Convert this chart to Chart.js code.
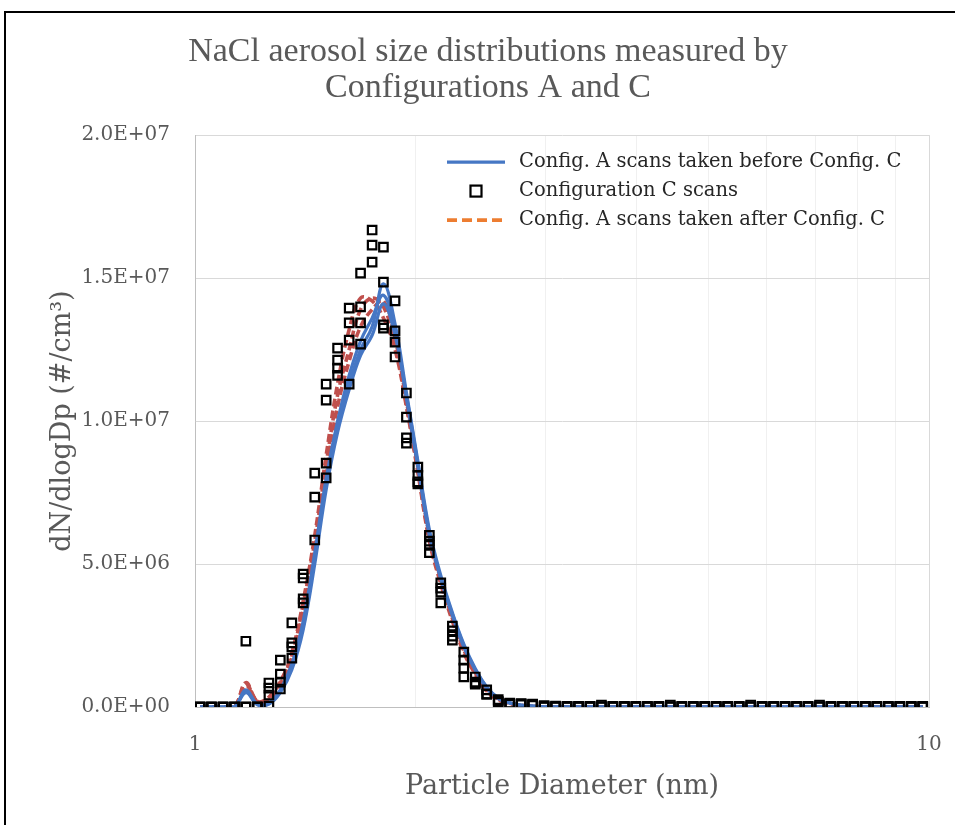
<!DOCTYPE html>
<html><head><meta charset="utf-8">
<script src="https://cdn.jsdelivr.net/npm/chart.js@4.4.1/dist/chart.umd.min.js"></script>
<style>
html,body{margin:0;padding:0;background:#fff;overflow:hidden;}
#wrap{position:relative;width:955px;height:825px;}
#frame{position:absolute;left:4px;top:11px;width:1000px;height:900px;border:2.5px solid #000;box-sizing:border-box;pointer-events:none;}
canvas{position:absolute;left:0;top:0;}
</style></head><body>
<div id="wrap"><canvas id="c" width="955" height="825"></canvas><div id="frame"></div></div>
<script>
// Particle diameters (nm), one per instrument channel
const diameters = [
  1.016,1.053,1.092,1.132,1.173,1.216,1.261,1.307,1.355,1.404,
  1.456,1.509,1.564,1.622,1.681,1.743,1.806,1.873,1.941,2.012,
  2.086,2.162,2.242,2.324,2.409,2.497,2.589,2.684,2.782,2.884,
  2.990,3.099,3.213,3.331,3.453,3.579,3.710,3.846,3.987,4.134,
  4.285,4.442,4.605,4.774,4.949,5.130,5.318,5.513,5.715,5.924,
  6.142,6.367,6.600,6.842,7.093,7.353,7.622,7.901,8.191,8.491,
  8.802,9.125,9.459,9.805
];

// dN/dlogDp values in units of 1E+06 #/cm3
// Configuration C scans (squares)
const cScan1 = [
  0,0,0,0,2.3,0,0.84,1.64,2.94,4.65,
  8.18,11.29,12.55,13.95,15.17,16.68,16.08,14.2,10.98,8.39,
  6.0,4.34,2.83,1.92,1.05,0.6,0.26,0.14,0.12,0.1,
  0.05,0.03,0.02,0.02,0.02,0.07,0.02,0.02,0.02,0.02,
  0.02,0.07,0.02,0.02,0.02,0.02,0.02,0.02,0.07,0.02,
  0.02,0.02,0.02,0.02,0.07,0.02,0.02,0.02,0.02,0.02,
  0.02,0.02,0.02,0.02
];
const cScan2 = [
  0,0,0,0,0,0,0.66,1.15,2.24,4.51,
  7.34,10.73,12.13,13.43,13.99,16.15,14.86,13.15,10.14,8.1,
  5.8,4.16,2.66,1.64,0.87,0.45,0.16,0.12,0.1,0.08,
  0.01,0.01,0.01,0.01,0.01,0.01,0.01,0.01,0.01,0.01,
  0.01,0.01,0.01,0.01,0.01,0.01,0.01,0.01,0.01,0.01,
  0.01,0.01,0.01,0.01,0.01,0.01,0.01,0.01,0.01,0.01,
  0.01,0.01,0.01,0.01
];
const cScan3 = [
  0,0,0,0,0,0,0.42,0.87,2.1,3.78,
  5.84,8.53,11.85,12.83,13.43,15.56,13.36,12.76,9.41,7.87,
  5.65,4.02,2.48,1.36,0.84,0.45,0.2,0.1,0.08,0.06,
  0,0,0,0,0,0,0,0,0,0,
  0,0,0,0,0,0,0,0,0,0,
  0,0,0,0,0,0,0,0,0,0,
  0,0,0,0
];
const cScan4 = [
  0,0,0,0,0,0,0.03,0.63,1.71,3.64,
  null,8.01,11.6,11.29,12.69,null,13.25,12.24,9.23,7.8,
  5.4,3.64,2.34,1.05,0.8,null,null,null,null,null,
  null,null,null,null,null,null,null,null,null,null,
  null,null,null,null,null,null,null,null,null,null,
  null,null,null,null,null,null,null,null,null,null,
  null,null,null,null
];

// Config. A scans taken before Config. C (blue solid)
const aBefore1 = [
  0,0,0,0,0.6,0.1,0.15,0.55,1.4,2.8,
  5.2,7.8,9.8,11.3,12.5,13.3,14.8,13.4,11.0,8.6,
  6.2,4.6,3.3,2.2,1.35,0.7,0.32,0.15,0.07,0.03,
  0,0,0,0,0,0,0,0,0,0,
  0,0,0,0,0,0,0,0,0,0,
  0,0,0,0,0,0,0,0,0,0,
  0,0,0,0
];
const aBefore2 = [
  0,0,0,0,0.5,0.08,0.1,0.5,1.3,2.7,
  5.0,7.6,9.6,11.1,12.3,13.0,14.1,13.0,10.9,8.5,
  6.1,4.5,3.2,2.1,1.3,0.65,0.3,0.14,0.06,0.02,
  0,0,0,0,0,0,0,0,0,0,
  0,0,0,0,0,0,0,0,0,0,
  0,0,0,0,0,0,0,0,0,0,
  0,0,0,0
];
const aBefore3 = [
  0,0,0,0,0.55,0.1,0.12,0.6,1.5,3.0,
  5.4,8.0,10.0,11.6,12.8,13.6,14.4,13.2,10.8,8.4,
  6.0,4.5,3.25,2.15,1.3,0.7,0.3,0.14,0.06,0.03,
  0,0,0,0,0,0,0,0,0,0,
  0,0,0,0,0,0,0,0,0,0,
  0,0,0,0,0,0,0,0,0,0,
  0,0,0,0
];

// Config. A scans taken after Config. C (red dashed)
const aAfter1 = [
  0,0,0,0,0.85,0.2,0.35,0.9,1.8,3.6,
  5.8,8.5,10.9,12.5,13.9,14.3,14.0,12.7,10.6,8.3,
  5.9,4.4,3.1,2.0,1.2,0.6,0.28,0.13,0.06,0.03,
  0,0,0,0,0,0,0,0,0,0,
  0,0,0,0,0,0,0,0,0,0,
  0,0,0,0,0,0,0,0,0,0,
  0,0,0,0
];
const aAfter2 = [
  0,0,0,0,0.8,0.2,0.3,0.85,1.9,3.7,
  6.0,8.8,11.3,13.2,14.3,14.2,13.6,12.5,10.5,8.2,
  5.8,4.3,3.0,1.9,1.15,0.55,0.25,0.12,0.05,0.02,
  0,0,0,0,0,0,0,0,0,0,
  0,0,0,0,0,0,0,0,0,0,
  0,0,0,0,0,0,0,0,0,0,
  0,0,0,0
];
const aAfter3 = [
  0,0,0,0,0.75,0.18,0.25,0.8,1.7,3.4,
  5.6,8.2,10.5,12.1,13.3,13.9,14.2,12.9,10.7,8.4,
  6.0,4.45,3.1,2.0,1.2,0.6,0.27,0.13,0.06,0.03,
  0,0,0,0,0,0,0,0,0,0,
  0,0,0,0,0,0,0,0,0,0,
  0,0,0,0,0,0,0,0,0,0,
  0,0,0,0
];

const UNIT = 1e6;
const yTickValues = [0, 5e6, 1e7, 1.5e7, 2e7];
const xGridValues = [1, 2, 3, 4, 5, 6, 7, 8, 9, 10];
const xTickLabels = [1, 10];
const labelBefore = 'Config. A scans taken before Config. C';
const labelC = 'Configuration C scans';
const labelAfter = 'Config. A scans taken after Config. C';
const titleLines = ['NaCl aerosol size distributions measured by', 'Configurations A and C'];
const xTitle = 'Particle Diameter (nm)';
const yTitle = 'dN/dlogDp (#/cm\u00B3)';

const BLUE = '#4677c4', RED = '#c0504d', ORANGE = '#ed7d31';
const SERIF = '"DejaVu Serif", serif';

function toPts(arr){
  return diameters.map((d,i)=>({x:d, y: arr[i]==null ? null : arr[i]*UNIT})).filter(p=>p.y!==null);
}
function fmtE(v){
  const parts = Number(v).toExponential(1).split('e');
  const n = parseInt(parts[1],10);
  return parts[0] + 'E' + (n<0?'-':'+') + String(Math.abs(n)).padStart(2,'0');
}

const cSets = [cScan1,cScan2,cScan3,cScan4].map(s=>({
  label: labelC, data: toPts(s), showLine:false,
  pointStyle:'rect', pointRadius:6, pointHoverRadius:6,
  pointBorderColor:'#000', pointBackgroundColor:'rgba(0,0,0,0)', pointBorderWidth:2.2
}));
const bSets = [aBefore1,aBefore2,aBefore3].map(s=>({
  label: labelBefore, data: toPts(s), showLine:true, borderColor:BLUE, borderWidth:3.2,
  pointRadius:0, tension:0.4, fill:false
}));
const rSets = [aAfter1,aAfter2,aAfter3].map(s=>({
  label: labelAfter, data: toPts(s), showLine:true, borderColor:RED, borderWidth:3.6,
  borderDash:[8,4], pointRadius:0, tension:0.4, fill:false
}));

const legendPlugin = {
  id:'insideLegend',
  afterDraw(chart){
    const ctx = chart.ctx, a = chart.chartArea;
    const x0 = a.left + 252, x1 = a.left + 310, tx = a.left + 324;
    const ys = [a.top + 27, a.top + 56, a.top + 85];
    ctx.save();
    ctx.strokeStyle = BLUE; ctx.lineWidth = 3.2; ctx.setLineDash([]);
    ctx.beginPath(); ctx.moveTo(x0, ys[0]); ctx.lineTo(x1, ys[0]); ctx.stroke();
    ctx.strokeStyle = '#000'; ctx.lineWidth = 2.2;
    ctx.strokeRect((x0+x1)/2 - 5.5, ys[1] - 5.5, 11, 11);
    ctx.strokeStyle = ORANGE; ctx.lineWidth = 3.6; ctx.setLineDash([10,5]);
    ctx.beginPath(); ctx.moveTo(x0, ys[2]); ctx.lineTo(x1, ys[2]); ctx.stroke();
    ctx.setLineDash([]);
    ctx.fillStyle = '#262626';
    ctx.font = '19.5px ' + SERIF;
    ctx.textAlign = 'left'; ctx.textBaseline = 'middle';
    [labelBefore, labelC, labelAfter].forEach((t,i)=>ctx.fillText(t, tx, ys[i]));
    ctx.restore();
  }
};

new Chart(document.getElementById('c'), {
  type:'scatter',
  data:{ datasets: [...cSets, ...bSets, ...rSets] },
  options:{
    responsive:false, animation:false, events:[],
    layout:{ padding:{ left:47, right:26, top:0, bottom:0 } },
    plugins:{
      legend:{ display:false },
      tooltip:{ enabled:false },
      title:{
        display:true, text:titleLines, color:'#595959',
        font:{ family:'"Liberation Serif", serif', size:34, weight:'normal', lineHeight:1.06 },
        padding:{ top:34, bottom:29 }
      }
    },
    scales:{
      x:{
        type:'logarithmic', min:1, max:10,
        afterFit(s){ s.height = 118; s.paddingLeft = 0; s.paddingRight = 0; },
        afterBuildTicks(s){ s.ticks = xGridValues.map(v=>({value:v, major: xTickLabels.includes(v)})); },
        border:{ color:'#bfbfbf', width:1 },
        grid:{
          drawTicks:false,
          color:(c)=> (c.tick && xTickLabels.includes(c.tick.value)) ? '#d9d9d9' : '#f0f0f0',
          lineWidth:1
        },
        ticks:{
          autoSkip:false, maxRotation:0, padding:26, color:'#595959',
          font:{ family:SERIF, size:20 },
          callback:(v)=> xTickLabels.includes(v) ? String(v) : ''
        },
        title:{
          display:true, text:xTitle, color:'#595959',
          font:{ family:SERIF, size:27, lineHeight:1.2 },
          padding:{ top:0, bottom:22 }
        }
      },
      y:{
        min:0, max:2e7,
        afterFit(s){ s.width = 148; },
        afterBuildTicks(s){ s.ticks = yTickValues.map(v=>({value:v})); },
        border:{ color:'#bfbfbf', width:1 },
        grid:{ drawTicks:false, color:'#d9d9d9', lineWidth:1 },
        ticks:{
          padding:25, color:'#595959',
          font:{ family:SERIF, size:20 },
          callback:(v)=> fmtE(v)
        },
        title:{
          display:true, text:yTitle, color:'#595959',
          font:{ family:SERIF, size:27, lineHeight:1.2 },
          padding:{ top:0, bottom:0 }
        }
      }
    }
  },
  plugins:[legendPlugin]
});
</script>
</body></html>
